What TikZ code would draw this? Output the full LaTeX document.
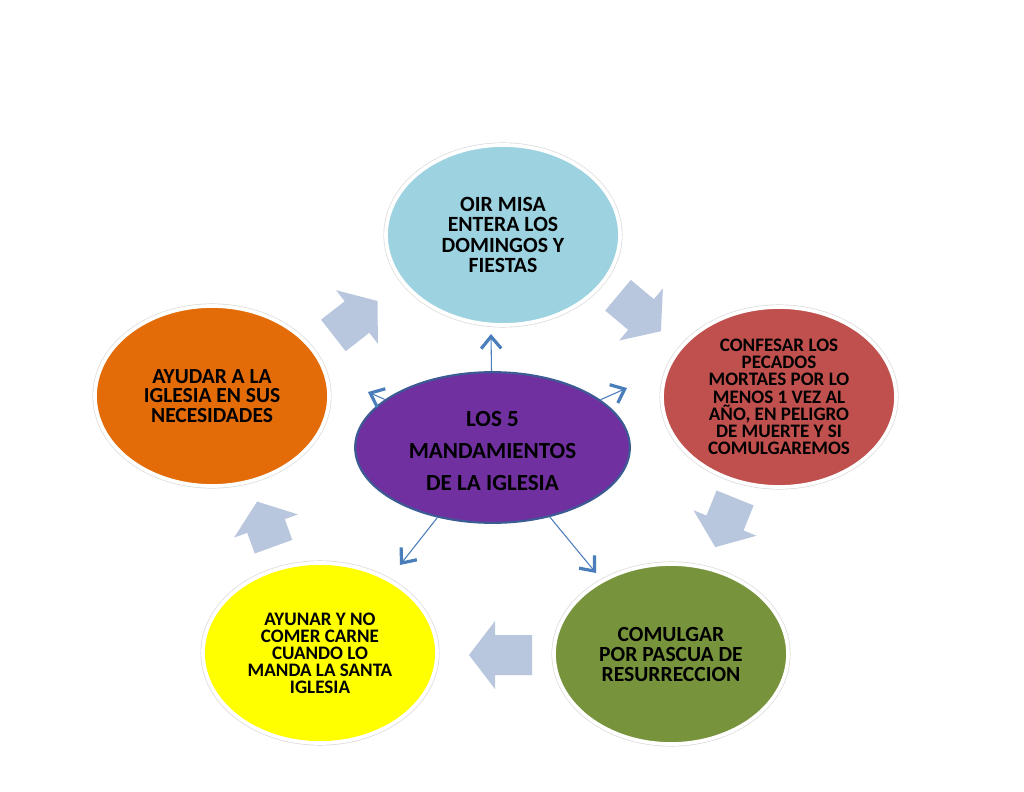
\documentclass[tikz,border=0pt]{standalone}
\usepackage{fontspec}
\setmainfont{Carlito}
\usetikzlibrary{shapes.geometric,arrows.meta}
\definecolor{cblue}{HTML}{9DD3E0}
\definecolor{cred}{HTML}{C0504D}
\definecolor{cgreen}{HTML}{77933C}
\definecolor{cyellow}{HTML}{FFFF00}
\definecolor{corange}{HTML}{E36C09}
\definecolor{cpurple}{HTML}{7030A0}
\definecolor{cborder}{HTML}{3C5A94}
\definecolor{cline}{HTML}{4A7EBB}
\definecolor{cblock}{HTML}{B9C7DE}
\newcommand{\blockarrow}[4]{%
  \fill[cblock, shift={(#1,#2)}, rotate=#3] (26,0) -- (0,34) -- (0,20) -- (-#4,20) -- (-#4,-20) -- (0,-20) -- (0,-34) -- cycle;}
\begin{document}
\begin{tikzpicture}[x=0.75pt,y=-0.75pt,
  circ/.style={ellipse, minimum width=175.5pt, minimum height=135pt, inner sep=0pt, align=center,
    preaction={draw=black!15, line width=3.8pt}, draw=white, line width=2.8pt},
  conn/.style={draw=cline, line width=0.8pt, -{Straight Barb[length=9pt,width=15pt,line width=2.4pt]}}]
\useasboundingbox[fill=white] (0,0) rectangle (1024,792);
% block arrows of the cycle
\blockarrow{357}{317}{38}{30}
\blockarrow{641}{314.5}{-40}{30}
\blockarrow{725}{523}{-112}{27}
\blockarrow{495}{655}{180}{37}
\blockarrow{266}{526}{110}{22}
% outer circles
\node[circ, fill=cblue, font={\bfseries\fontsize{16.3}{15.2}\selectfont}] (n1) at (503,235)
  {OIR MISA\\ENTERA LOS\\DOMINGOS Y\\FIESTAS};
\node[circ, fill=cred, font={\bfseries\fontsize{14.3}{12.9}\selectfont}] (n2) at (779,397)
  {CONFESAR LOS\\PECADOS\\MORTAES POR LO\\MENOS 1 VEZ AL\\AÑO, EN PELIGRO\\DE MUERTE Y SI\\COMULGAREMOS};
\node[circ, fill=cgreen, font={\bfseries\fontsize{16.2}{15}\selectfont}] (n3) at (671,654)
  {COMULGAR\\POR PASCUA DE\\RESURRECCION};
\node[circ, fill=cyellow, font={\bfseries\fontsize{14.3}{12.75}\selectfont}] (n4) at (320,653)
  {AYUNAR Y NO\\COMER CARNE\\CUANDO LO\\MANDA LA SANTA\\IGLESIA};
\node[circ, fill=corange, font={\bfseries\fontsize{16.1}{14.6}\selectfont}] (n5) at (212,396)
  {AYUDAR A LA\\IGLESIA EN SUS\\NECESIDADES};
% centre
\node[ellipse, fill=cpurple, draw=cborder, line width=1.6pt, minimum width=206pt, minimum height=113pt,
  inner sep=0pt] (hub) at (492.5,447.5) {};
\node[align=center, inner sep=0pt, font={\bfseries\fontsize{17.3}{24}\selectfont}] (hubtext) at (492.5,451)
  {LOS 5\\MANDAMIENTOS\\DE LA IGLESIA};
% connector ends
\coordinate (aU) at (491,334);
\coordinate (aL) at (368,392);
\coordinate (aR) at (627,388);
\coordinate (aDL) at (400,565);
\coordinate (aDR) at (596,573);
\draw[conn] (hub) -- (aU);
\draw[conn] (hub) -- (aL);
\draw[conn] (hub) -- (aR);
\draw[conn] (hub) -- (aDL);
\draw[conn] (hub) -- (aDR);
\end{tikzpicture}
\end{document}
